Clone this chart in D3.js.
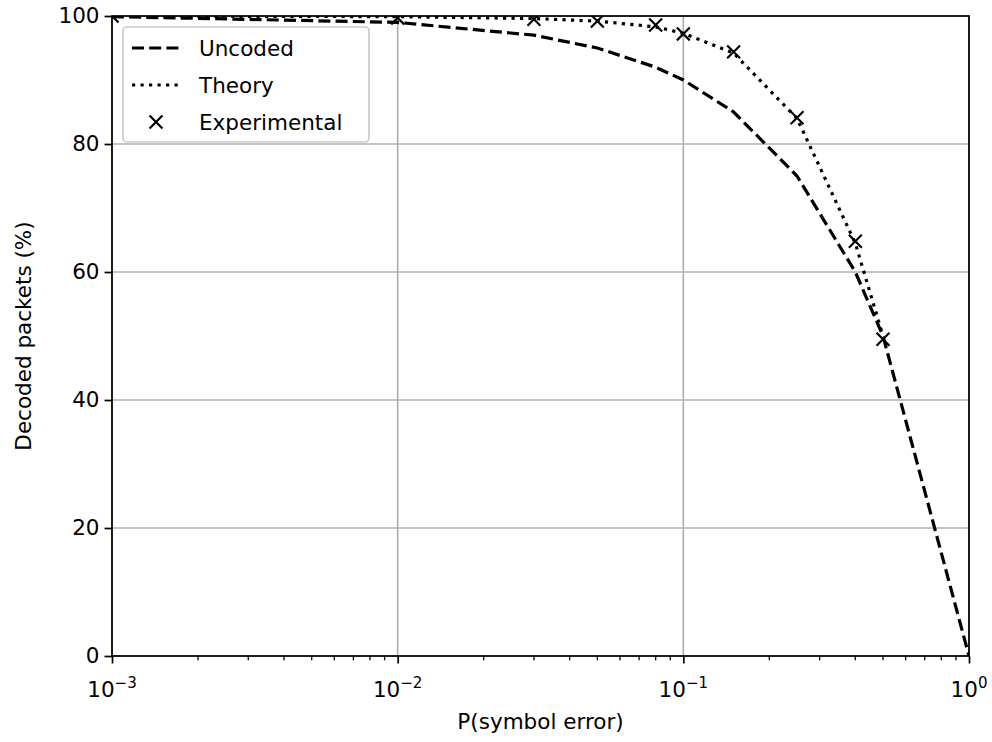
<!DOCTYPE html>
<html>
<head>
<meta charset="utf-8">
<script src="https://cdn.jsdelivr.net/npm/d3@7"></script>
<style>
  body { margin: 0; background: #fff; }
  svg { display: block; font-family: "DejaVu Sans", sans-serif; }
</style>
</head>
<body>
<div id="chart"></div>
<script>
// data
const pError = [0.001, 0.01, 0.03, 0.05, 0.08, 0.1, 0.15, 0.25, 0.4, 0.5, 1.0];
const uncoded = [99.9, 99, 97, 95, 92, 90, 85, 75, 60, 50, 0];
const theoryP = [0.001, 0.01, 0.03, 0.05, 0.08, 0.1, 0.15, 0.25, 0.4, 0.5];
const theory = [100, 99.9, 99.6, 99.2, 98.3, 97.3, 94.2, 84, 64.5, 50];
const expP = [0.001, 0.01, 0.03, 0.05, 0.08, 0.1, 0.15, 0.25, 0.4, 0.5];
const experimental = [100, 99.7, 99.5, 99.2, 98.6, 97.2, 94.4, 84.1, 64.8, 49.5];
const xTicks = [0.001, 0.01, 0.1, 1];
const xTickExp = ["\u22123", "\u22122", "\u22121", "0"];
const yTicks = [0, 20, 40, 60, 80, 100];

const width = 992, height = 742;
const margin = { left: 112, right: 23, top: 16, bottom: 86 };
const fs = 21.5;

const svg = d3.select("#chart").append("svg")
  .attr("width", width).attr("height", height);

const x = d3.scaleLog().domain([0.001, 1]).range([margin.left, width - margin.right]);
const y = d3.scaleLinear().domain([0, 100]).range([height - margin.bottom, margin.top]);

// grid
svg.append("g").selectAll("line").data(xTicks).join("line")
  .attr("x1", d => x(d)).attr("x2", d => x(d))
  .attr("y1", y(0)).attr("y2", y(100))
  .attr("stroke", "#b0b0b0").attr("stroke-width", 1.7);
svg.append("g").selectAll("line").data(yTicks).join("line")
  .attr("x1", x(0.001)).attr("x2", x(1))
  .attr("y1", d => y(d)).attr("y2", d => y(d))
  .attr("stroke", "#b0b0b0").attr("stroke-width", 1.7);

svg.append("clipPath").attr("id", "clip").append("rect")
  .attr("x", x(0.001)).attr("y", y(100))
  .attr("width", x(1) - x(0.001)).attr("height", y(0) - y(100));

const plot = svg.append("g").attr("clip-path", "url(#clip)");

const line = d3.line().x(d => x(d[0])).y(d => y(d[1]));

plot.append("path")
  .datum(pError.map((p, i) => [p, uncoded[i]]))
  .attr("d", line).attr("fill", "none")
  .attr("stroke", "#000").attr("stroke-width", 3.2)
  .attr("stroke-dasharray", "12,5.2");

plot.append("path")
  .datum(theoryP.map((p, i) => [p, theory[i]]))
  .attr("d", line).attr("fill", "none")
  .attr("stroke", "#000").attr("stroke-width", 3.2)
  .attr("stroke-dasharray", "3.2,5.3");

const ms = 6.45;
const drawX = (g, cx, cy) => {
  g.append("path")
    .attr("d", `M${cx - ms},${cy - ms}L${cx + ms},${cy + ms}M${cx - ms},${cy + ms}L${cx + ms},${cy - ms}`)
    .attr("stroke", "#000").attr("stroke-width", 2.15).attr("fill", "none");
};
expP.forEach((p, i) => drawX(plot, x(p), y(experimental[i])));

// axes
const xAxis = svg.append("g")
  .attr("transform", `translate(0,${y(0)})`)
  .call(d3.axisBottom(x).tickValues(xTicks).tickFormat("").tickSizeInner(7.5).tickSizeOuter(0));
const minor = [];
for (let e = -3; e < 0; e++) for (let m = 2; m <= 9; m++) minor.push(m * Math.pow(10, e));
svg.append("g").selectAll("line").data(minor).join("line")
  .attr("x1", d => x(d)).attr("x2", d => x(d))
  .attr("y1", y(0)).attr("y2", y(0) + 4.3)
  .attr("stroke", "#000").attr("stroke-width", 1.3);

const xl = svg.append("g").selectAll("text").data(xTicks).join("text")
  .attr("x", d => x(d)).attr("y", y(0) + 41)
  .attr("text-anchor", "middle").attr("font-size", fs).attr("fill", "#000");
xl.append("tspan").text("10");
xl.append("tspan").attr("dy", -9).attr("font-size", fs * 0.7).text((d, i) => xTickExp[i]);

const yAxis = svg.append("g")
  .attr("transform", `translate(${x(0.001)},0)`)
  .call(d3.axisLeft(y).tickValues(yTicks).tickSizeInner(7.5).tickSizeOuter(0).tickPadding(5));
yAxis.selectAll("text").attr("font-size", fs).attr("font-family", "DejaVu Sans").attr("fill", "#000");

[xAxis, yAxis].forEach(a => {
  a.select(".domain").remove();
  a.selectAll("line").attr("stroke-width", 1.7);
});

// spines
svg.append("rect")
  .attr("x", x(0.001)).attr("y", y(100))
  .attr("width", x(1) - x(0.001)).attr("height", y(0) - y(100))
  .attr("fill", "none").attr("stroke", "#000").attr("stroke-width", 1.7);

// axis labels
svg.append("text").attr("x", (x(0.001) + x(1)) / 2).attr("y", 729)
  .attr("text-anchor", "middle").attr("font-size", fs).text("P(symbol error)");
svg.append("text")
  .attr("transform", `translate(31,${(y(0) + y(100)) / 2}) rotate(-90)`)
  .attr("text-anchor", "middle").attr("font-size", fs).text("Decoded packets (%)");

// legend
const lg = svg.append("g");
lg.append("rect").attr("x", 123).attr("y", 27).attr("width", 246).attr("height", 115)
  .attr("rx", 4).attr("fill", "#fff").attr("fill-opacity", 0.8)
  .attr("stroke", "#cccccc").attr("stroke-width", 1.7);
const entries = ["Uncoded", "Theory", "Experimental"];
const rowY = [48, 85, 122];
lg.append("line").attr("x1", 132).attr("x2", 180).attr("y1", rowY[0]).attr("y2", rowY[0])
  .attr("stroke", "#000").attr("stroke-width", 3.2).attr("stroke-dasharray", "12,5.2");
lg.append("line").attr("x1", 132).attr("x2", 180).attr("y1", rowY[1]).attr("y2", rowY[1])
  .attr("stroke", "#000").attr("stroke-width", 3.2).attr("stroke-dasharray", "3.2,5.3");
drawX(lg, 156, rowY[2]);
lg.selectAll("text.lbl").data(entries).join("text").attr("class", "lbl")
  .attr("x", 199).attr("y", (d, i) => rowY[i]).attr("dy", "0.35em")
  .attr("font-size", fs).text(d => d);
</script>
</body>
</html>
